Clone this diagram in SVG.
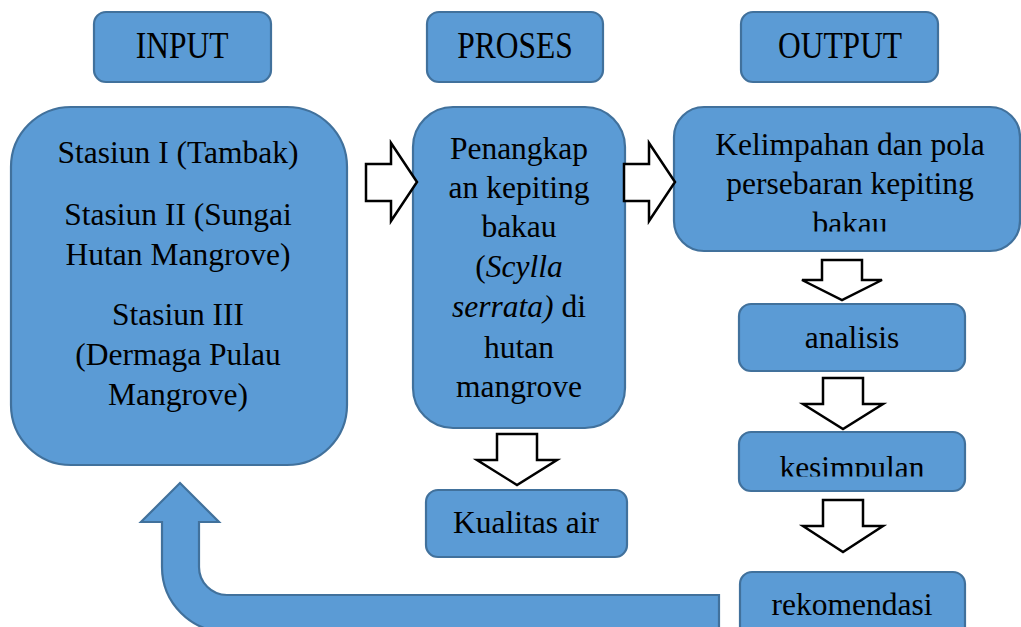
<svg xmlns="http://www.w3.org/2000/svg" width="1021" height="627" viewBox="0 0 1021 627" font-family="Liberation Serif, serif" font-size="31.5">
<style>
.box{fill:#5B9BD5;stroke:#41719C;stroke-width:2.2}
.t{fill:#000;text-anchor:middle}
.hol{fill:#fff;stroke:#000;stroke-width:2.5;stroke-linejoin:miter}
.it{font-style:italic}
</style>
<defs>
<clipPath id="clipOut"><rect x="660" y="100" width="361" height="131.5"/></clipPath>
<clipPath id="clipKes"><rect x="730" y="420" width="250" height="56.5"/></clipPath>
</defs>
<rect width="1021" height="627" fill="#fff"/>

<g id="input-header">
<rect class="box" x="94" y="12" width="177" height="70" rx="12"/>
<text class="t" font-family="Liberation Serif" transform="translate(182,58) scale(1,1.22)">INPUT</text>
</g>
<g id="proses-header">
<rect class="box" x="427" y="12" width="176" height="70" rx="12"/>
<text class="t" font-family="Liberation Serif" transform="translate(515,58) scale(1,1.22)">PROSES</text>
</g>
<g id="output-header">
<rect class="box" x="741" y="12" width="197" height="70" rx="12"/>
<text class="t" font-family="Liberation Serif" transform="translate(840,58) scale(1,1.22)">OUTPUT</text>
</g>

<g id="input-box" font-family="Liberation Serif">
<rect class="box" x="11" y="107" width="336" height="358" rx="60"/>
<text class="t" x="178" y="163">Stasiun I (Tambak)</text>
<text class="t" x="178" y="225">Stasiun II (Sungai</text>
<text class="t" x="178" y="265">Hutan Mangrove)</text>
<text class="t" x="178" y="325">Stasiun III</text>
<text class="t" x="178" y="365">(Dermaga Pulau</text>
<text class="t" x="178" y="405">Mangrove)</text>
</g>

<g id="proses-box" font-family="Liberation Serif">
<rect class="box" x="413" y="107" width="212" height="321" rx="40"/>
<text class="t" x="519" y="159">Penangkap</text>
<text class="t" x="519" y="198">an kepiting</text>
<text class="t" x="519" y="237">bakau</text>
<text class="t" x="519" y="277">(<tspan class="it">Scylla</tspan></text>
<text class="t" x="519" y="317"><tspan class="it">serrata)</tspan> di</text>
<text class="t" x="519" y="358">hutan</text>
<text class="t" x="519" y="397">mangrove</text>
</g>

<g id="output-box" font-family="Liberation Serif">
<rect class="box" x="674" y="107" width="346" height="144" rx="30"/>
<g clip-path="url(#clipOut)">
<text class="t" x="850" y="155">Kelimpahan dan pola</text>
<text class="t" x="850" y="194">persebaran kepiting</text>
<text class="t" x="850" y="234">bakau</text>
</g>
</g>

<g id="analisis" font-family="Liberation Serif">
<rect class="box" x="739" y="304" width="226" height="67" rx="12"/>
<text class="t" x="852" y="348">analisis</text>
</g>

<g id="kesimpulan" font-family="Liberation Serif">
<rect class="box" x="739" y="432" width="226" height="59" rx="12"/>
<g clip-path="url(#clipKes)">
<text class="t" x="852" y="478">kesimpulan</text>
</g>
</g>

<g id="rekomendasi" font-family="Liberation Serif">
<rect class="box" x="740" y="572" width="225" height="70" rx="12"/>
<text class="t" x="852" y="615">rekomendasi</text>
</g>

<g id="kualitas-air" font-family="Liberation Serif">
<rect class="box" x="426" y="490" width="201" height="67" rx="12"/>
<text class="t" x="526" y="533">Kualitas air</text>
</g>

<g id="connectors">
<path class="hol" d="M366 164 H391 V143 L417 182 L391 221 V201 H366 Z"/>
<path class="hol" d="M624 164 H649 V143 L675 182 L649 221 V201 H624 Z"/>
<path class="hol" d="M822 260 H862 V280 H882 L842 300 L802 280 H822 Z"/>
<path class="hol" d="M823 378 H863 V404 H883 L843 429 L803 404 H823 Z"/>
<path class="hol" d="M823 500 H863 V526 H883 L843 552 L803 526 H823 Z"/>
<path class="hol" d="M497 434 H537 V460 H557 L517 485 L477 460 H497 Z"/>
<path class="box" d="M719 595 L227 595 A28 28 0 0 1 199 567 L199 522 L219 522 L180 483 L141 522 L162 522 L162 567 A65 65 0 0 0 227 632 L719 632 Z"/>
</g>
</svg>
